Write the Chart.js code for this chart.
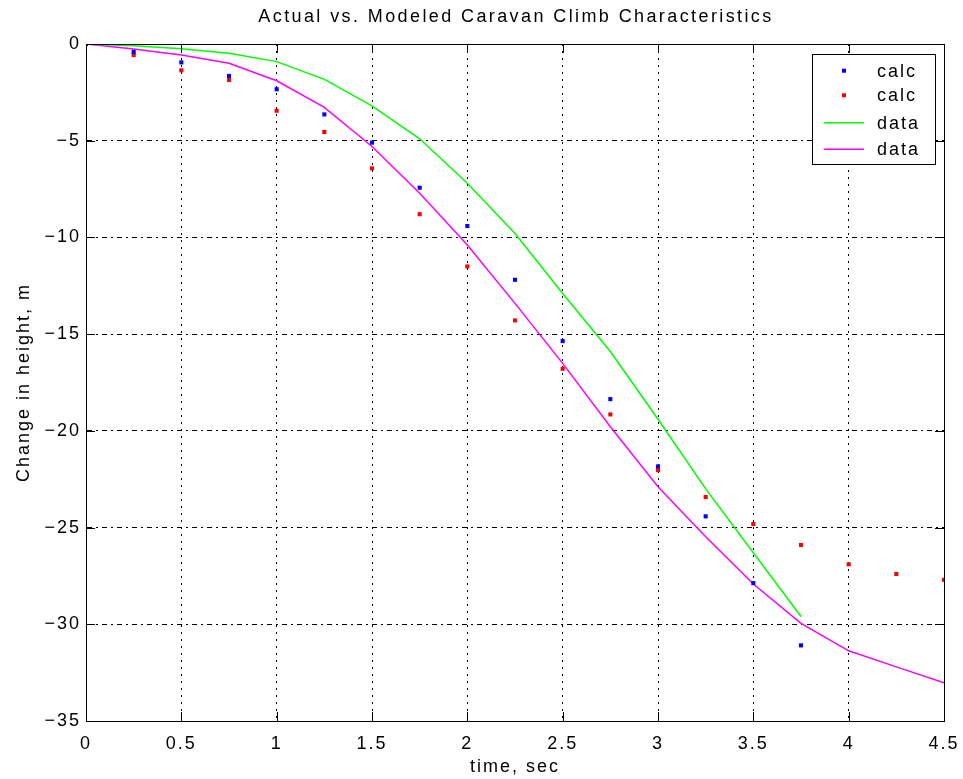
<!DOCTYPE html>
<html>
<head>
<meta charset="utf-8">
<script src="https://cdn.jsdelivr.net/npm/chart.js@4.4.1/dist/chart.umd.min.js"></script>
<style>
  html, body { margin: 0; padding: 0; background: #fff; }
  #wrap { width: 963px; height: 779px; }
</style>
</head>
<body>
<div id="wrap"><canvas id="myChart"></canvas></div>
<script>
// time steps (s)
const calcTime = [0, 0.25, 0.5, 0.75, 1, 1.25, 1.5, 1.75, 2, 2.25, 2.5, 2.75, 3, 3.25, 3.5, 3.75, 4, 4.25, 4.5];
const dataTime = [0, 0.25, 0.5, 0.75, 1, 1.25, 1.5, 1.75, 2, 2.25, 2.5, 2.75, 3, 3.25, 3.5, 3.75, 4, 4.25, 4.5];

// calc points (blue stops at 3.75)
const calcBlue = [0, -0.41, -0.95, -1.65, -2.34, -3.64, -5.1, -7.43, -9.41, -12.19, -15.36, -18.36, -21.84, -24.42, -27.87, -31.09];
const calcRed = [0, -0.57, -1.36, -1.86, -3.45, -4.55, -6.43, -8.8, -11.5, -14.29, -16.79, -19.15, -22.03, -23.42, -24.82, -25.9, -26.9, -27.4, -27.7];

// measured curves
const dataGreen = [0, -0.09, -0.25, -0.48, -0.91, -1.83, -3.2, -4.9, -7.2, -9.8, -12.9, -15.9, -19.4, -23.0, -26.3, -29.6];
const dataMagenta = [0, -0.26, -0.57, -1.0, -1.9, -3.28, -5.3, -7.72, -10.39, -13.41, -16.51, -19.79, -22.89, -25.47, -27.92, -29.95, -31.37, -32.2, -33.02];

// axes
const xTicks = [0, 0.5, 1, 1.5, 2, 2.5, 3, 3.5, 4, 4.5];
const yTicks = [0, -5, -10, -15, -20, -25, -30, -35];

const titleText = 'Actual vs. Modeled Caravan Climb Characteristics';

function pts(xs, ys) {
  return ys.map((y, i) => ({x: xs[i], y: y}));
}

const FONT = "'Liberation Sans', Arial, Helvetica, sans-serif";

// texte espacé comme la police bitmap de matlab
const spacing = {
  id: 'spacing',
  beforeDraw(chart) {
    chart.ctx.letterSpacing = '2px';
  }
};

// titre centré sur la zone du graphe, boite, ticks interieurs et legende facon matlab
const matlabBox = {
  id: 'matlabBox',
  afterDraw(chart) {
    const ctx = chart.ctx;
    const a = chart.chartArea;
    const sx = chart.scales.x, sy = chart.scales.y;
    ctx.save();

    ctx.letterSpacing = '2.4px';
    ctx.fillStyle = '#000';
    ctx.font = '18px ' + FONT;
    ctx.textAlign = 'center';
    ctx.textBaseline = 'middle';
    ctx.fillText(titleText, (a.left + a.right) / 2 + 1, 17);
    ctx.letterSpacing = '2px';
    ctx.textAlign = 'left';

    ctx.strokeStyle = '#000';
    ctx.lineWidth = 1;
    ctx.setLineDash([]);
    ctx.strokeRect(Math.round(a.left) + 0.5, Math.round(a.top) + 0.5, Math.round(a.right - a.left), Math.round(a.bottom - a.top));
    ctx.beginPath();
    xTicks.forEach(v => {
      const px = Math.round(sx.getPixelForValue(v)) + 0.5;
      ctx.moveTo(px, a.bottom); ctx.lineTo(px, a.bottom - 9);
      ctx.moveTo(px, a.top); ctx.lineTo(px, a.top + 9);
    });
    yTicks.forEach(v => {
      const py = Math.round(sy.getPixelForValue(v)) + 0.5;
      ctx.moveTo(a.left, py); ctx.lineTo(a.left + 9, py);
      ctx.moveTo(a.right, py); ctx.lineTo(a.right - 9, py);
    });
    ctx.stroke();

    // legende
    const lx = 812, ly = 54, lw = 123, lh = 110;
    ctx.fillStyle = '#fff';
    ctx.fillRect(lx, ly, lw, lh);
    ctx.strokeRect(lx + 0.5, ly + 0.5, lw, lh);
    const rows = [70.7, 95.3, 122.7, 149.3];
    chart.data.datasets.forEach((ds, i) => {
      const y = rows[i];
      if (ds.showLine) {
        ctx.strokeStyle = ds.borderColor;
        ctx.lineWidth = 1.5;
        ctx.beginPath();
        ctx.moveTo(824, y); ctx.lineTo(864, y);
        ctx.stroke();
      } else {
        ctx.fillStyle = ds.backgroundColor;
        ctx.fillRect(842, y - 2, 4, 4);
      }
      ctx.fillStyle = '#000';
      ctx.fillText(ds.label, 877, y + 1);
    });
    ctx.restore();
  }
};

const config = {
  type: 'scatter',
  data: {
    datasets: [
      {
        label: 'calc',
        data: pts(calcTime, calcBlue),
        backgroundColor: '#0000ff',
        pointStyle: 'rect',
        pointRadius: 2.9,
        pointBorderWidth: 0,
        showLine: false
      },
      {
        label: 'calc',
        data: pts(calcTime, calcRed),
        backgroundColor: '#ff0000',
        pointStyle: 'rect',
        pointRadius: 2.9,
        pointBorderWidth: 0,
        showLine: false
      },
      {
        label: 'data',
        data: pts(dataTime, dataGreen),
        borderColor: '#00ff00',
        borderWidth: 1.5,
        pointRadius: 0,
        showLine: true,
        tension: 0
      },
      {
        label: 'data',
        data: pts(dataTime, dataMagenta),
        borderColor: '#ff00ff',
        borderWidth: 1.5,
        pointRadius: 0,
        showLine: true,
        tension: 0
      }
    ]
  },
  options: {
    responsive: false,
    animation: false,
    events: [],
    layout: { padding: { left: 0, right: 19, top: 44, bottom: 0 } },
    plugins: {
      legend: { display: false },
      tooltip: { enabled: false },
      title: { display: false }
    },
    scales: {
      x: {
        type: 'linear',
        min: 0,
        max: 4.5,
        afterBuildTicks: s => { s.ticks = xTicks.map(v => ({value: v})); },
        afterFit: s => { s.height = 58; s.paddingRight = 0; s.paddingLeft = 0; },
        grid: { color: '#000', lineWidth: 1, drawTicks: false },
        border: { display: true, color: '#000', width: 1, dash: [2, 5] },
        ticks: { color: '#000', padding: 12, font: { family: FONT, size: 18 }, callback: v => String(v) },
        title: {
          display: true,
          text: 'time, sec',
          color: '#000',
          font: { family: FONT, size: 18, lineHeight: 1.2 },
          padding: { top: 0, bottom: 1.2 }
        }
      },
      y: {
        type: 'linear',
        min: -35,
        max: 0,
        afterBuildTicks: s => { s.ticks = yTicks.map(v => ({value: v})); },
        afterFit: s => { s.width = 86; s.paddingTop = 0; s.paddingBottom = 0; },
        grid: { color: '#000', lineWidth: 1, drawTicks: false },
        border: { display: true, color: '#000', width: 1, dash: [5, 4, 2, 4] },
        ticks: { color: '#000', padding: 5, font: { family: FONT, size: 18 }, callback: v => String(v).replace('-', '\u2212') },
        title: {
          display: true,
          text: 'Change in height, m',
          color: '#000',
          font: { family: FONT, size: 18, lineHeight: 1.2 },
          padding: { top: 13, bottom: 0 }
        }
      }
    }
  },
  plugins: [spacing, matlabBox]
};

const canvas = document.getElementById('myChart');
canvas.width = 963;
canvas.height = 779;
var myChart = new Chart(canvas, config);
</script>
</body>
</html>
